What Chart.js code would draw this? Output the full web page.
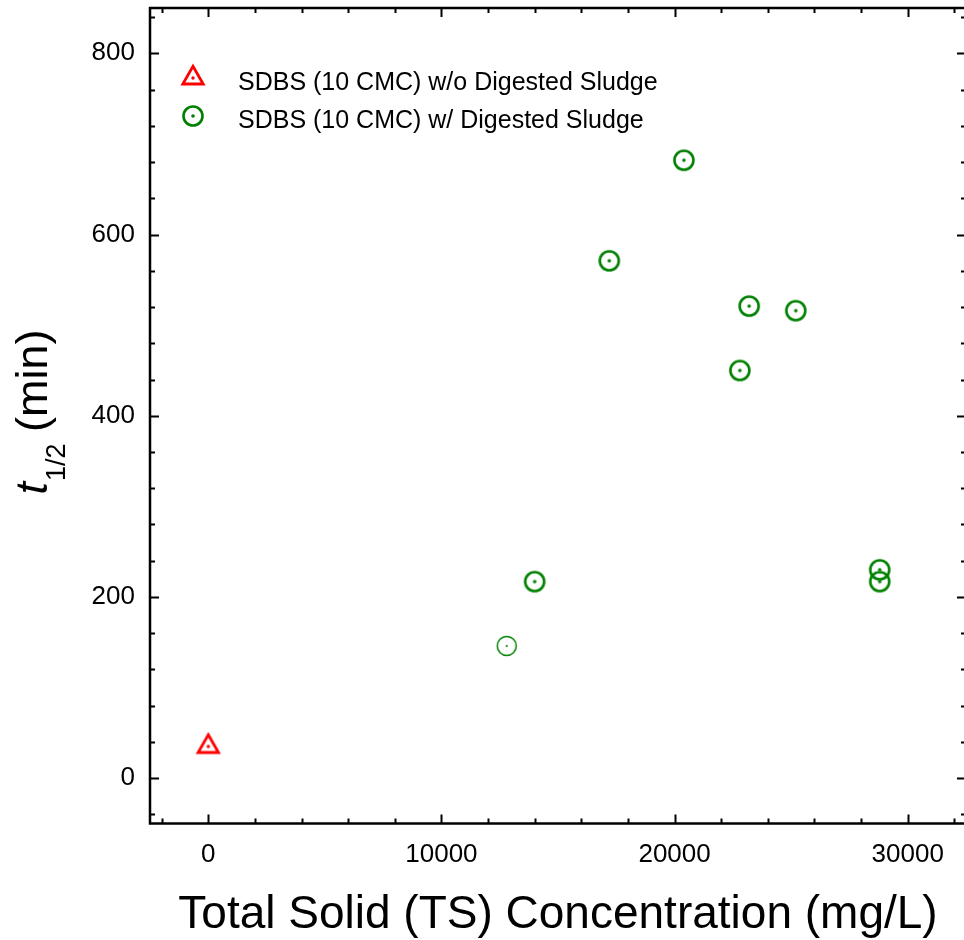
<!DOCTYPE html>
<html>
<head>
<meta charset="utf-8">
<script src="https://cdn.jsdelivr.net/npm/chart.js@4"></script>
<style>
  html, body { margin: 0; padding: 0; background: #fff; overflow: hidden; }
  #wrap { width: 970px; height: 940px; }
</style>
</head>
<body>
<div id="wrap"><canvas id="chart" width="970" height="940"></canvas></div>
<script>
// --- data ---
const seriesLabels = ["SDBS (10 CMC) w/o Digested Sludge", "SDBS (10 CMC) w/ Digested Sludge"];
const tsNoSludge = [0];
const tHalfNoSludge = [35];
const tsSludge = [12800, 14000, 17200, 20400, 22800, 23200, 25200, 28800, 28800];
const tHalfSludge = [146, 217, 571, 682, 450, 521, 516, 230, 217];
const xTickValues = [0, 10000, 20000, 30000];
const yTickValues = [0, 200, 400, 600, 800];

const RED = "#ff0000";
const GREEN = "#008000";
const FONT = "Liberation Sans, Arial, sans-serif";

// marker images (circle with centre dot, triangle with centre dot)
function circleMarker(lw) {
    const c = document.createElement("canvas");
    c.width = 28; c.height = 28;
    const g = c.getContext("2d");
    g.strokeStyle = GREEN; g.fillStyle = GREEN; g.lineWidth = lw;
    g.beginPath(); g.arc(14, 14, 9.5, 0, Math.PI * 2); g.stroke();
    g.beginPath(); g.arc(14, 14, lw < 2 ? 1.1 : 1.8, 0, Math.PI * 2); g.fill();
    return c;
}
function triangleMarker() {
    const c = document.createElement("canvas");
    c.width = 32; c.height = 32;
    const g = c.getContext("2d");
    g.strokeStyle = RED; g.fillStyle = RED; g.lineWidth = 2.8;
    g.beginPath();
    g.moveTo(16, 16 - 11.8);
    g.lineTo(16 + 10.2, 16 + 6);
    g.lineTo(16 - 10.2, 16 + 6);
    g.closePath(); g.stroke();
    g.beginPath(); g.arc(16, 16, 1.7, 0, Math.PI * 2); g.fill();
    return c;
}
const triImg = triangleMarker();
const circImg = circleMarker(2.6);
const circThin = circleMarker(1.5);

// frame, inward ticks, legend and axis titles
const decorations = {
    id: "decorations",
    afterDraw(chart) {
        const { ctx, chartArea: a, scales: { x, y } } = chart;
        ctx.save();
        ctx.strokeStyle = "#000";
        ctx.lineWidth = 2;
        // x ticks (bottom and top)
        for (let v = -2000; v <= 32000; v += 2000) {
            const px = Math.round(x.getPixelForValue(v)) + 0.5;
            const len = v % 10000 === 0 ? 9 : 5;
            ctx.beginPath();
            ctx.moveTo(px, a.bottom); ctx.lineTo(px, a.bottom - len);
            ctx.moveTo(px, a.top); ctx.lineTo(px, a.top + len);
            ctx.stroke();
        }
        // y ticks (left and right)
        for (let v = -40; v <= 840; v += 40) {
            const py = Math.round(y.getPixelForValue(v)) + 0.5;
            const len = v % 200 === 0 ? 9 : 5;
            ctx.beginPath();
            ctx.moveTo(a.left, py); ctx.lineTo(a.left + len, py);
            ctx.moveTo(a.right, py); ctx.lineTo(a.right - len, py);
            ctx.stroke();
        }
        ctx.lineWidth = 2.5;
        ctx.strokeRect(a.left, a.top, a.right - a.left, a.bottom - a.top);

        // legend
        ctx.fillStyle = "#000";
        ctx.font = "25px " + FONT;
        ctx.textBaseline = "alphabetic";
        ctx.textAlign = "left";
        ctx.drawImage(triImg, 193 - 16, 78 - 16);
        ctx.fillText(seriesLabels[0], 238, 90);
        ctx.drawImage(circImg, 193 - 14, 116 - 14);
        ctx.fillText(seriesLabels[1], 238, 128);

        // x title
        ctx.font = "46px " + FONT;
        ctx.textAlign = "center";
        ctx.fillText("Total Solid (TS) Concentration (mg/L)", 558, 928);

        // y title: t_{1/2} (min), rotated
        ctx.textAlign = "left";
        const fMain = "45px " + FONT, fIt = "italic 45px " + FONT, fSub = "27px " + FONT;
        ctx.font = fIt; const wT = ctx.measureText("t").width;
        ctx.font = fSub; const wS = ctx.measureText("1/2").width;
        ctx.font = fMain; const wM = ctx.measureText(" (min)").width;
        const total = wT + wS + wM;
        ctx.translate(47, 412);
        ctx.rotate(-Math.PI / 2);
        let cx = -total / 2;
        ctx.font = fIt; ctx.fillText("t", cx, 0); cx += wT + 1;
        ctx.font = fSub; ctx.fillText("1/2", cx, 18); cx += wS - 1;
        ctx.font = fMain; ctx.fillText(" (min)", cx, 0);
        ctx.restore();
    }
};

const tickFont = { family: FONT, size: 26 };
const noPad = s => { s.paddingLeft = 0; s.paddingRight = 0; s.paddingTop = 0; s.paddingBottom = 0; };

new Chart(document.getElementById("chart"), {
    type: "scatter",
    data: {
        datasets: [
            {
                label: seriesLabels[0],
                data: tsNoSludge.map((v, i) => ({ x: v, y: tHalfNoSludge[i] })),
                pointStyle: triImg,
                pointRadius: 10
            },
            {
                label: seriesLabels[1],
                data: tsSludge.map((v, i) => ({ x: v, y: tHalfSludge[i] })),
                pointStyle: ctx => ctx.dataIndex === 0 ? circThin : circImg,
                pointRadius: 10
            }
        ]
    },
    options: {
        responsive: false,
        animation: false,
        events: [],
        layout: { autoPadding: false, padding: { top: 8, right: 4, left: 0, bottom: 0 } },
        plugins: { legend: { display: false }, tooltip: { enabled: false } },
        scales: {
            x: {
                type: "linear", min: -2500, max: 32500,
                grid: { display: false, drawTicks: false },
                border: { display: false },
                ticks: { font: tickFont, color: "#000", padding: 16, maxRotation: 0, callback: v => String(v) },
                afterBuildTicks: s => { s.ticks = xTickValues.map(v => ({ value: v })); },
                afterFit: s => { s.height = 116.5; noPad(s); }
            },
            y: {
                type: "linear", min: -50, max: 850,
                grid: { display: false, drawTicks: false },
                border: { display: false },
                ticks: { font: tickFont, color: "#000", padding: 15, callback: v => String(v) },
                afterBuildTicks: s => { s.ticks = yTickValues.map(v => ({ value: v })); },
                afterFit: s => { s.width = 150; noPad(s); }
            }
        }
    },
    plugins: [decorations]
});
</script>
</body>
</html>
